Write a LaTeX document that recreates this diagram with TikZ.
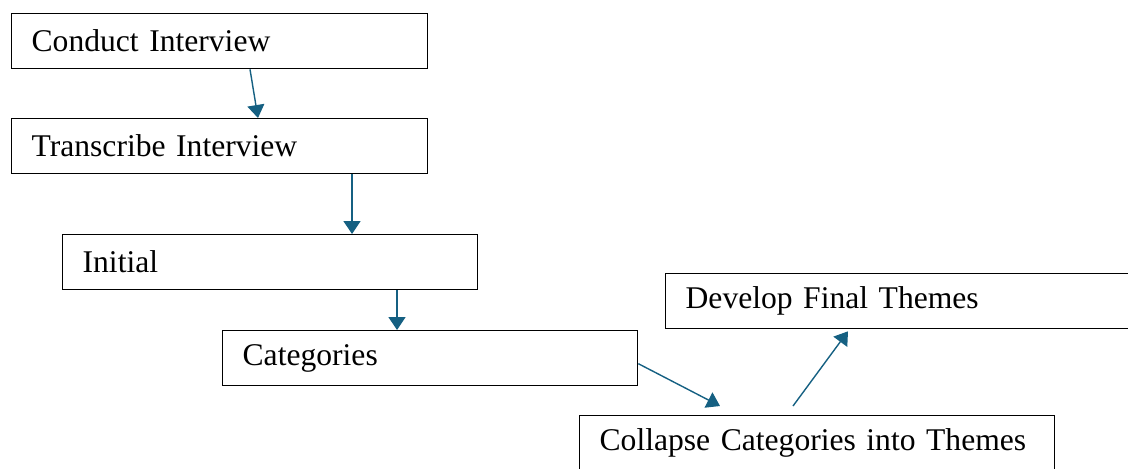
\documentclass[tikz,border=0pt]{standalone}
\usepackage{fontspec}
\setmainfont{Liberation Serif}
\usepackage{xcolor}
\usetikzlibrary{arrows.meta}

\definecolor{flowblue}{HTML}{156082}

\tikzset{
  stage/.style={draw=black, line width=0.65pt, fill=white, anchor=north west,
    align=left, inner xsep=10pt, inner ysep=0pt, minimum height=27.5pt,
    font=\fontsize{15.8}{19}\selectfont},
  flow/.style={draw=flowblue, line width=0.7pt,
    -{Triangle[length=6.5pt,width=8.5pt]}}
}

\begin{document}
\begin{tikzpicture}[x=0.5pt, y=-0.5pt]
        \useasboundingbox (0, 0) rectangle (1128, 468);

        % interview steps
        \node[stage, text width=188pt] (conduct) at (11, 13) {Conduct Interview};
        \node[stage, text width=188pt] (transcribe) at (11, 118) {Transcribe Interview};
        \node[stage, text width=187.5pt] (initial) at (62, 234) {Initial};
        \node[stage, text width=187.5pt] (categories) at (222, 330) {Categories};
        \node[stage, text width=217.5pt] (collapse) at (579, 415) {Collapse Categories into Themes};
        \node[stage, text width=225pt] (final) at (665, 273) {Develop Final Themes};

        % free ends near the theme boxes
        \coordinate (collapsein) at ([xshift=70.5pt, yshift=4.5pt]collapse.north west);
        \coordinate (collapseout) at ([xshift=107pt, yshift=4.5pt]collapse.north west);
        \coordinate (finalin) at ([xshift=91.5pt, yshift=-1pt]final.south west);

        \draw[flow] ([xshift=119.5pt]conduct.south west) -- ([xshift=123.5pt]transcribe.north west);
        \draw[flow] ([xshift=170.5pt]transcribe.south west) -- ([xshift=145pt]initial.north west);
        \draw[flow] ([xshift=167.5pt]initial.south west) -- ([xshift=87.5pt]categories.north west);
        \draw[flow] ([yshift=-2.75pt]categories.east) -- (collapsein);
        \draw[flow] (collapseout) -- (finalin);
\end{tikzpicture}
\end{document}
